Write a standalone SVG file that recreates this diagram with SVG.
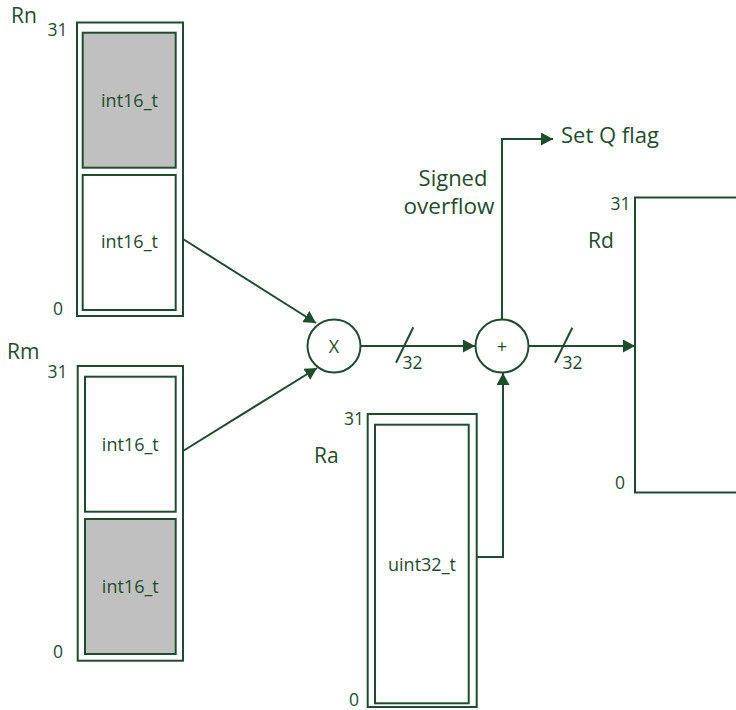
<svg xmlns="http://www.w3.org/2000/svg" width="736" height="710" viewBox="0 0 736 710">
<defs>
<marker id="arr" markerUnits="userSpaceOnUse" markerWidth="13" markerHeight="13" refX="12" refY="6.5" orient="auto">
<path d="M0,0 L12,6.5 L0,13 z" fill="#1e4d2b"/>
</marker>
<style>
.box{fill:#fff;stroke:#1e4d2b;stroke-width:2}
.gray{fill:#c0c0c0;stroke:#1e4d2b;stroke-width:2}
.ln{fill:none;stroke:#1e4d2b;stroke-width:2}
.t{font-family:"Open Sans","Liberation Sans",sans-serif;fill:#1e4d2b}
.lbl{font-size:21px}
.big{font-size:22px}
.num{font-size:17.5px}
.typ{font-size:18px;text-anchor:middle}
</style>
</defs>
<rect width="736" height="710" fill="#fff"/>
<g id="Rn">
<rect class="box" x="77" y="22.5" width="106" height="293.5"/>
<rect class="gray" x="82.7" y="32.7" width="93" height="135"/>
<rect class="box" x="82.7" y="175" width="93" height="135"/>
<text class="t lbl" x="11" y="23">Rn</text>
<text class="t num" x="47.5" y="36">31</text>
<text class="t num" x="53" y="315">0</text>
<text class="t typ" x="129.5" y="107">int16_t</text>
<text class="t typ" x="129.5" y="248">int16_t</text>
</g>
<g id="Rm">
<rect class="box" x="77.7" y="366" width="105.3" height="294.7"/>
<rect class="box" x="85" y="376.7" width="90.7" height="135"/>
<rect class="gray" x="85" y="519" width="90.7" height="135"/>
<text class="t lbl" x="7" y="359">Rm</text>
<text class="t num" x="47.5" y="378">31</text>
<text class="t num" x="53" y="658">0</text>
<text class="t typ" x="130.3" y="450.5">int16_t</text>
<text class="t typ" x="130.3" y="593">int16_t</text>
</g>
<g id="Ra">
<rect class="box" x="367.7" y="414" width="109" height="293"/>
<rect class="box" x="375" y="424.7" width="93.7" height="278.6"/>
<text class="t lbl" x="314" y="463">Ra</text>
<text class="t num" x="344" y="425">31</text>
<text class="t num" x="349" y="706">0</text>
<text class="t typ" x="422" y="570.5">uint32_t</text>
</g>
<g id="Rd">
<rect class="box" x="635" y="197.5" width="130" height="295"/>
<text class="t lbl" x="588" y="248">Rd</text>
<text class="t num" x="610.5" y="210">31</text>
<text class="t num" x="615" y="489">0</text>
</g>
<g id="mul">
<circle class="box" cx="334" cy="346" r="26.5"/>
<text class="t" x="334" y="352.5" font-size="18" text-anchor="middle">X</text>
</g>
<g id="add">
<circle class="box" cx="502" cy="346" r="26.5"/>
<text class="t" x="502" y="352.5" font-size="18" text-anchor="middle">+</text>
</g>
<g id="labels">
<text class="t" x="453" y="185.5" font-size="22" text-anchor="middle">Signed</text>
<text class="t" x="449" y="214" font-size="22.5" text-anchor="middle">overflow</text>
<text class="t big" x="561" y="143">Set Q flag</text>
<text class="t" x="402.5" y="368.5" font-size="17.5">32</text>
<text class="t" x="562.5" y="369" font-size="17.5">32</text>
</g>
<g id="connectors">
<line class="ln" x1="183" y1="239" x2="316" y2="323" marker-end="url(#arr)"/>
<line class="ln" x1="183" y1="451" x2="317" y2="368" marker-end="url(#arr)"/>
<line class="ln" x1="360.5" y1="346" x2="475" y2="346" marker-end="url(#arr)"/>
<line class="ln" x1="528.5" y1="346" x2="635" y2="346" marker-end="url(#arr)"/>
<polyline class="ln" points="477,557 503,557 503,373" marker-end="url(#arr)"/>
<polyline class="ln" points="502,319.5 502,139 553,139" marker-end="url(#arr)"/>
<line class="ln" x1="413.3" y1="327.3" x2="396" y2="362.7"/>
<line class="ln" x1="572.3" y1="327.7" x2="555" y2="362.7"/>
</g>
</svg>
